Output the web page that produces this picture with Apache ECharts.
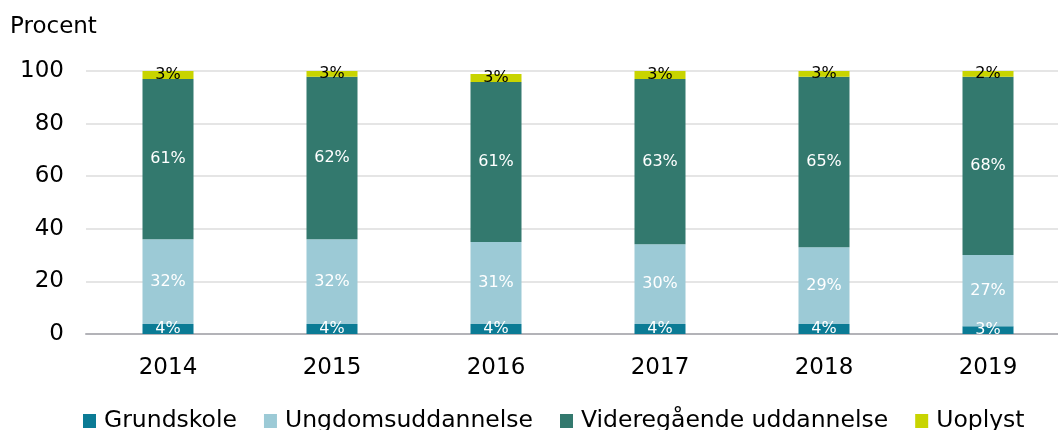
<!DOCTYPE html>
<html>
<head>
<meta charset="utf-8">
<script src="https://cdn.jsdelivr.net/npm/echarts@6/dist/echarts.min.js"></script>
<style>
  html, body { margin: 0; padding: 0; background: #fff; }
  #chart { width: 1058px; height: 430px; }
</style>
</head>
<body>
<div id="chart"></div>
<script>
var years = ['2014', '2015', '2016', '2017', '2018', '2019'];
var grundskole = [3.8, 3.8, 3.8, 3.8, 3.8, 2.9];
var ungdom = [32.2, 32.2, 31.2, 30.3, 29.2, 27.1];
var videregaaende = [61, 61.8, 60.8, 62.9, 64.8, 67.8];
var uoplyst = [3, 2.5, 3.1, 3, 2.5, 2.2];

var font = 'DejaVu Sans';

function pct(p) {
  return Math.round(p.value) + '%';
}

function serie(name, data, color, labelColor) {
  return {
    name: name,
    type: 'bar',
    stack: 'total',
    barWidth: 51,
    data: data,
    itemStyle: { color: color },
    label: {
      show: true,
      position: 'inside',
      formatter: pct,
      color: labelColor,
      fontFamily: font,
      fontSize: 16
    }
  };
}

var chart = echarts.init(document.getElementById('chart'));
chart.setOption({
  animation: false,
  textStyle: { fontFamily: font },
  title: {
    text: 'Procent',
    left: 5,
    top: 11,
    textStyle: { fontFamily: font, fontSize: 23, fontWeight: 'normal', color: '#000' }
  },
  grid: { left: 86, width: 984, top: 71, bottom: 96, outerBoundsMode: 'none', containLabel: false },
  legend: {
    left: 78,
    top: 404,
    itemWidth: 13,
    itemHeight: 14,
    itemGap: 27,
    icon: 'rect',
    textStyle: { fontFamily: font, fontSize: 23.5, color: '#000', padding: [0, 0, 0, 3] },
    data: ['Grundskole', 'Ungdomsuddannelse', 'Videregående uddannelse', 'Uoplyst']
  },
  xAxis: {
    type: 'category',
    data: years,
    axisTick: { show: false },
    axisLine: { lineStyle: { color: '#b3b3b8', width: 2 } },
    axisLabel: { color: '#000', fontSize: 23, margin: 23 }
  },
  yAxis: {
    type: 'value',
    min: 0,
    max: 100,
    interval: 20,
    axisLine: { show: false },
    axisTick: { show: false },
    splitLine: { lineStyle: { color: '#dcdcdc', width: 1.5 } },
    axisLabel: { color: '#000', fontSize: 23, margin: 22 }
  },
  series: [
    serie('Grundskole', grundskole, '#0b7b95', '#fff'),
    serie('Ungdomsuddannelse', ungdom, '#9ccad6', '#fff'),
    serie('Videregående uddannelse', videregaaende, '#33796e', '#fff'),
    serie('Uoplyst', uoplyst, '#c8d400', '#000')
  ]
});
</script>
</body>
</html>
